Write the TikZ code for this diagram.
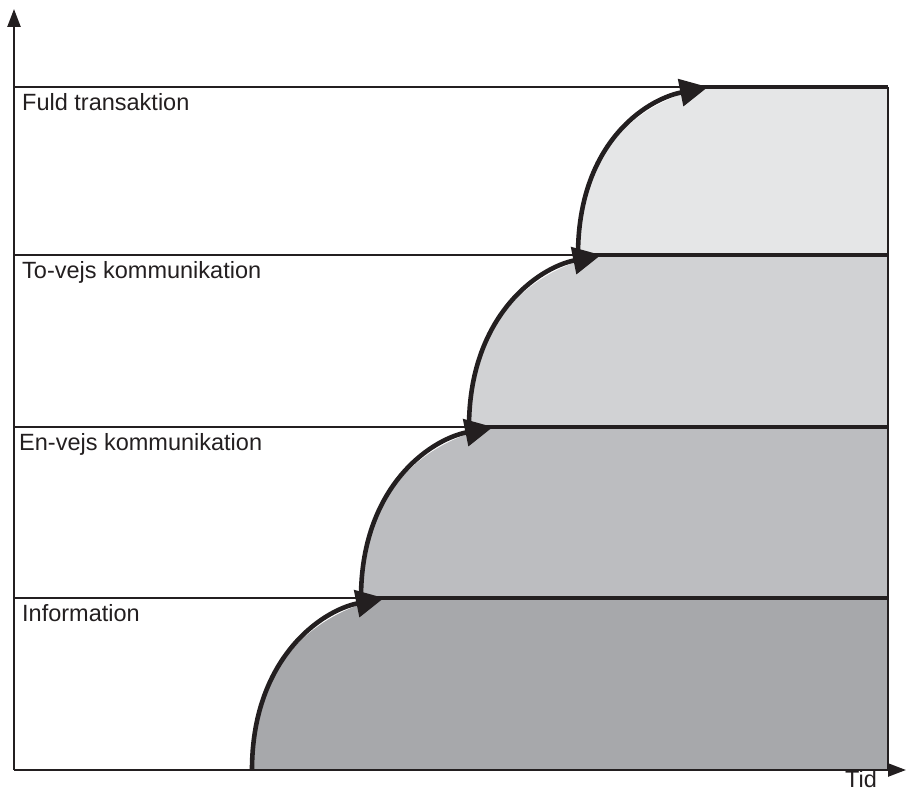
\documentclass[tikz,border=0pt]{standalone}
\usepackage{fontspec}
\setmainfont{Liberation Sans}
\usetikzlibrary{arrows.meta}
\definecolor{bandA}{HTML}{A7A8AB}
\definecolor{bandB}{HTML}{BCBDC0}
\definecolor{bandC}{HTML}{D1D2D4}
\definecolor{bandD}{HTML}{E5E6E7}
\definecolor{ink}{HTML}{231F20}
\begin{document}
\begin{tikzpicture}[x=1pt,y=1pt]
\tikzstyle{lbl}=[anchor=base west,inner sep=0pt,text=ink,font=\fontsize{23.5}{28}\selectfont]
\tikzstyle{axis}=[line width=2.4pt,ink,-{Triangle[length=18pt,width=13pt]}]
\tikzstyle{rule}=[line width=1.4pt,ink]
\tikzstyle{edge}=[line width=2.4pt,ink]
\tikzstyle{growth}=[line width=4.6pt,ink,-{Triangle[length=28pt,width=27pt]}]
\tikzstyle{level}=[line width=4.6pt,ink]
    \useasboundingbox (0,0) rectangle (906,793);
    % axes
    \coordinate (o) at (14,23);
    \coordinate (ytop) at (14,784);
    \coordinate (xend) at (906,23);
    % band borders
    \coordinate (l1) at (14,195);
    \coordinate (l2) at (14,366);
    \coordinate (l3) at (14,538);
    \coordinate (l4) at (14,706);
    \coordinate (r0) at (888,23);
    \coordinate (r1) at (888,195);
    \coordinate (r2) at (888,366);
    \coordinate (r3) at (888,538);
    \coordinate (r4) at (888,706);
    % curve ends
    \coordinate (a0) at (252,23);
    \coordinate (a1) at (384,195);
    \coordinate (b0) at (361,195);
    \coordinate (b1) at (493,366);
    \coordinate (c0) at (469,366);
    \coordinate (c1) at (601,538);
    \coordinate (d0) at (578,538);
    \coordinate (d1) at (708,706);
    % fills
    \fill [bandA] (a0) .. controls +(0,110) and +(-64,-13) .. (a1) -- (r1) -- (r0) -- cycle;
    \fill [bandB] (b0) .. controls +(0,110) and +(-64,-13) .. (b1) -- (r2) -- (r1) -- cycle;
    \fill [bandC] (c0) .. controls +(0,110) and +(-64,-13) .. (c1) -- (r3) -- (r2) -- cycle;
    \fill [bandD] (d0) .. controls +(0,110) and +(-64,-13) .. (d1) -- (r4) -- (r3) -- cycle;
    % thin rules
    \draw [rule] (l1) -- (r1);
    \draw [rule] (l2) -- (r2);
    \draw [rule] (l3) -- (r3);
    \draw [rule] (l4) -- (r4);
    \draw [edge] (r4) -- (r0);
    % levels
    \draw [level] ([xshift=-14pt]a1) -- (r1);
    \draw [level] ([xshift=-14pt]b1) -- (r2);
    \draw [level] ([xshift=-14pt]c1) -- (r3);
    \draw [level] ([xshift=-14pt]d1) -- (r4);
    \draw [growth] (a0) .. controls +(0,110) and +(-64,-13) .. (a1);
    \draw [growth] (b0) .. controls +(0,110) and +(-64,-13) .. (b1);
    \draw [growth] (c0) .. controls +(0,110) and +(-64,-13) .. (c1);
    \draw [growth] (d0) .. controls +(0,110) and +(-64,-13) .. (d1);
    \draw [axis] (o) -- (ytop);
    \draw [axis] (o) -- (xend);
    % labels
    \node [lbl] (info) at (22,171) {Information};
    \node [lbl] (envejs) at (19,342) {En-vejs kommunikation};
    \node [lbl] (tovejs) at (22,514) {To-vejs kommunikation};
    \node [lbl] (fuld) at (22,682) {Fuld transaktion};
    \node [lbl] (tid) at (845,5) {Tid};
\end{tikzpicture}
\end{document}
